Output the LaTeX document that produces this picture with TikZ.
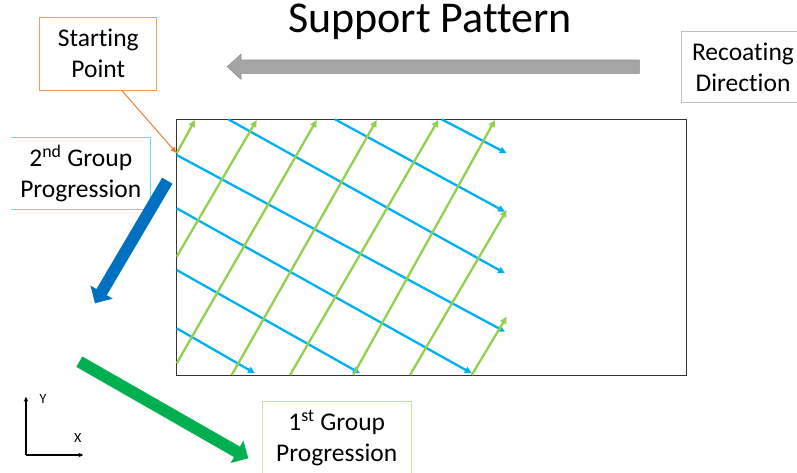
\documentclass[tikz,border=0pt]{standalone}
\usepackage{fontspec}
\setmainfont[Ligatures={NoCommon}]{Carlito}
\usetikzlibrary{arrows.meta,positioning,calc}
\definecolor{scanblue}{HTML}{00B0F0}
\definecolor{scangreen}{HTML}{92D050}
\definecolor{startorange}{HTML}{ED7D31}
\definecolor{progblue}{HTML}{0070C0}
\definecolor{proggreen}{HTML}{00B050}
\definecolor{recoatgray}{HTML}{A5A5A5}

\begin{document}
\begin{tikzpicture}[x=1pt, y=-1pt, >=Stealth,
  labelbox/.style={font=\fontsize{25.5}{31}\selectfont, align=center, inner sep=0pt},
  bluevec/.style={scanblue, line width=2.3pt, -{Triangle[length=7pt,width=6.5pt]}},
  greenvec/.style={scangreen, line width=2.3pt, -{Triangle[length=7pt,width=6.5pt]}},
  bigarrow/.style={line width=12pt, -{Triangle[length=13pt,width=25pt]}}]
\useasboundingbox (0,0) rectangle (797,472);

% title and build plate
\node[font=\fontsize{44}{50}\selectfont, anchor=base] (title) at (430,32) {Support Pattern};
\node[draw=black!80, line width=1.2pt, anchor=north west, inner sep=0pt,
  minimum width=510pt, minimum height=256pt] (plate) at (176,119) {};

% scan vectors
\foreach \xa/\ya/\xb/\yb in {441.7/119.3/506.7/153.3, 335/119.3/505/211.7,
  228.3/119.3/505/273.3, 176.7/155/505/331.7, 176.7/208.3/471.7/373.3,
  176.7/270/360/373.3, 176.7/328.3/255/373.3}
  \draw[bluevec] (\xa,\ya) -- (\xb,\yb);
\foreach \xa/\ya/\xb/\yb in {176.7/153.3/195/120, 176.7/256.7/256.7/120,
  176.7/363.3/316.7/120, 231.7/375/376.7/120, 290/375/438.3/120,
  353.3/375/495/120, 410/375/506.7/210, 471.7/375/506.7/316.7}
  \draw[greenvec] (\xa,\ya) -- (\xb,\yb);

% labels
\node[labelbox, draw=startorange!75, line width=1pt, minimum width=116.7pt,
  minimum height=72.7pt] (start) at (98.3,53.7) {Starting\\Point};
\coordinate (origin) at (176.5,153);
\draw[startorange, line width=1pt, -{Triangle[length=6pt,width=5pt]}]
  ($(start.south west)!0.7!(start.south east)$) -- (origin);

\node[labelbox, minimum width=139.7pt, minimum height=71.3pt] (second) at (80.8,173.3)
  {2\textsuperscript{nd} Group\\Progression};
\draw[scanblue!55, line width=1pt] (second.north west) -- (second.north east)
  -- (second.south east) -- (second.south west);

\node[labelbox, draw=black!25, line width=1pt, minimum width=122.6pt,
  minimum height=71pt] (recoat) at (743,67.2) {Recoating\\Direction};

\node[labelbox, draw=scangreen!55, line width=1pt, minimum width=148.7pt,
  minimum height=72pt] (first) at (336.7,437.7) {1\textsuperscript{st} Group\\Progression};

% direction arrows
\coordinate (blue tail) at (167.3,180.7);
\coordinate (blue tip) at (95,303.3);
\draw[bigarrow, progblue] (blue tail) -- (blue tip);
\coordinate (green tail) at (79.3,361.7);
\coordinate (green tip) at (248.3,458.3);
\draw[bigarrow, proggreen] (green tail) -- (green tip);
\coordinate (gray tip) at (227.3,66.7);
\draw[fill=recoatgray, draw=black!45, line width=0.6pt] (gray tip) -- (241,54.2) -- (241,60)
  -- (639.3,60) -- (639.3,73.3) -- (241,73.3) -- (241,79.2) -- cycle;

% axes
\coordinate (axis origin) at (26,455);
\node[font=\fontsize{14}{16}\selectfont] (ylabel) at (43,399) {Y};
\node[font=\fontsize{14}{16}\selectfont] (xlabel) at (77.7,437.7) {X};
\draw[line width=1.2pt, -{Stealth[length=5pt,width=4.5pt]}] (axis origin) -- (26,396.7);
\draw[line width=1.2pt, -{Stealth[length=5pt,width=4.5pt]}] (axis origin) -- (83.3,455);
\end{tikzpicture}
\end{document}
